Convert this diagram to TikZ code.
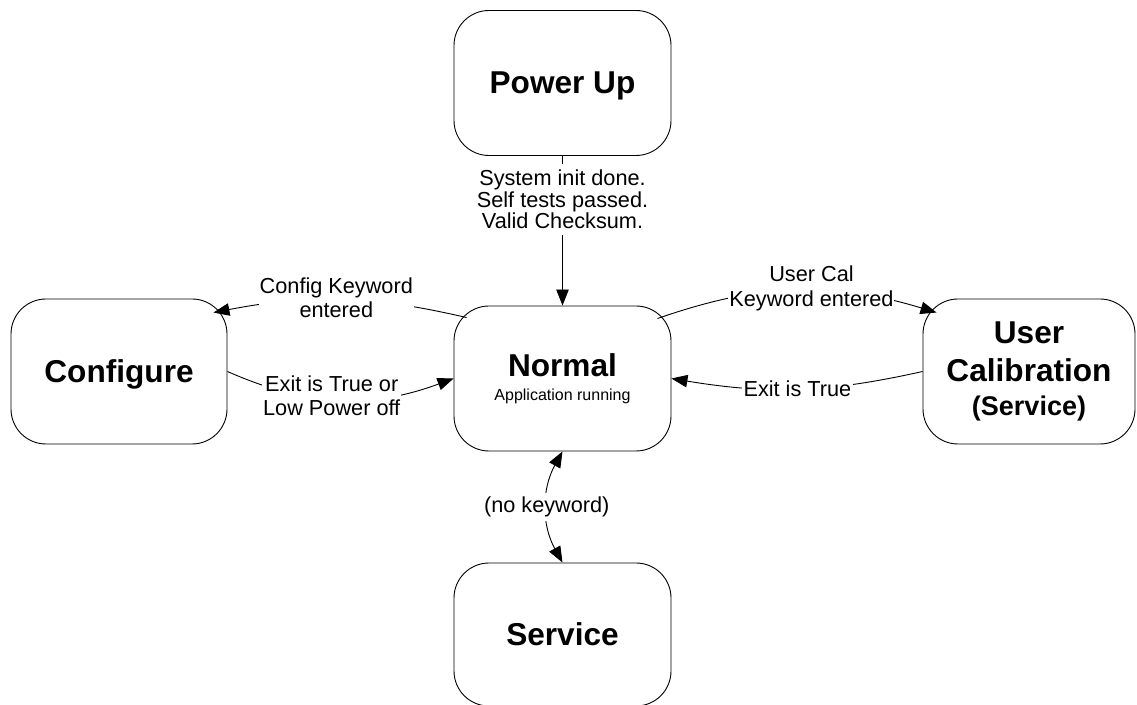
\documentclass[tikz,border=0pt]{standalone}
\usepackage{fontspec}
\setmainfont{Liberation Sans}
\usetikzlibrary{arrows.meta,calc}
\begin{document}
\begin{tikzpicture}[
  x=1pt,y=1pt,
  state/.style={draw, line width=0.9pt, rounded corners=35pt, minimum width=217pt,
    minimum height=145pt, inner sep=0pt, align=center,
    font=\fontsize{31.6}{38}\selectfont\bfseries},
  oneline/.style={text depth=0pt},
  lbl/.style={fill=white, inner xsep=1pt, inner ysep=4pt, align=center,
    font=\fontsize{21.7}{24.4}\selectfont},
  conn/.style={line width=0.9pt, -{Triangle[length=16pt,width=12.5pt]}}
]
\useasboundingbox (0,0) rectangle (1137,704);

\node[state, oneline] (pu) at (562.5,621) {Power Up};
\node[state] (nm) at (562.5,325.5) {Normal\\[-14pt]{\fontsize{16}{19}\mdseries\selectfont Application running}};
\node[state, oneline, minimum width=216pt] (cf) at (119,332.5) {Configure};
\node[state, minimum width=212pt] (uc) at (1029,332.5) {User\\Calibration\\[-4pt]{\fontsize{27}{32}\selectfont (Service)}};
\node[state, oneline, minimum height=143pt] (sv) at (562.5,69.5) {Service};

\coordinate (nmNW) at ($(nm.north west)+(13,-12)$);
\coordinate (nmNE) at ($(nm.north east)+(-14,-13)$);
\coordinate (cfNE) at ($(cf.north east)+(-14,-14)$);
\coordinate (ucNW) at ($(uc.north west)+(14,-14)$);

\draw[conn] (pu) -- node[lbl, pos=0.29, inner ysep=6pt, font=\fontsize{21.7}{21.7}\selectfont]
  {System init done.\\Self tests passed.\\Valid Checksum.} (nm);
\draw[conn] (nmNW) to[bend right=12] node[lbl, xshift=-4pt, yshift=2pt] {Config Keyword\\entered} (cfNE);
\draw[conn] (cf.east) to[bend right=22] node[lbl, xshift=-8pt, yshift=4pt] {Exit is True or\\Low Power off} (nm.west);
\draw[conn] (nmNE) to[bend left=18] node[lbl, inner ysep=0pt, xshift=15pt, yshift=2pt] {User Cal\\Keyword entered} (ucNW);
\draw[conn] (uc.west) to[bend left=11] node[lbl, inner xsep=2pt] {Exit is True} (nm.east);
\draw[line width=0.9pt, {Triangle[length=16pt,width=12.5pt]}-{Triangle[length=16pt,width=12.5pt]}]
  (nm.south) to[bend right=29] node[lbl] {(no keyword)} (sv.north);
\end{tikzpicture}
\end{document}
